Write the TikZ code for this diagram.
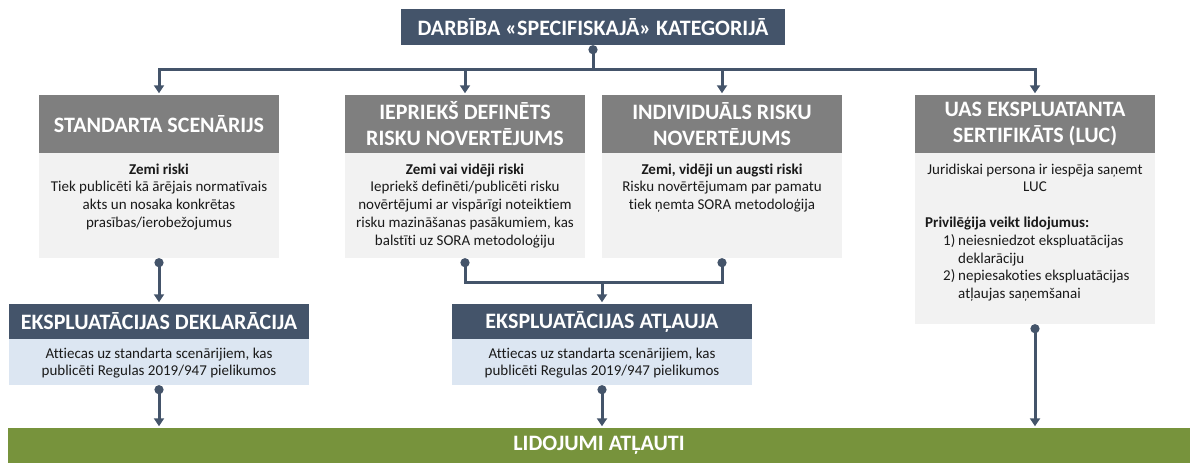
\documentclass[tikz,border=0pt]{standalone}
\usepackage{fontspec}
\setmainfont{Carlito}[RawFeature={-liga}]
\usetikzlibrary{arrows.meta}
\definecolor{slate}{HTML}{44546A}
\definecolor{hgray}{HTML}{7F7F7F}
\definecolor{bgray}{HTML}{F2F2F2}
\definecolor{lblue}{HTML}{DCE6F2}
\definecolor{olive}{HTML}{77933C}
\definecolor{txt}{HTML}{1A1A1A}
\tikzset{
  x=1pt, y=-1pt,
  hdr/.style={fill=hgray, text=white, minimum width=240pt, minimum height=58pt, inner sep=0pt,
    align=center, font=\fontsize{22}{26}\selectfont\bfseries},
  dhdr/.style={fill=slate, text=white, minimum width=300pt, minimum height=35pt, inner sep=0pt,
    align=center, font=\fontsize{22}{26}\selectfont\bfseries},
  gbody/.style={fill=bgray, minimum width=240pt, inner sep=0pt},
  bbody/.style={fill=lblue, minimum width=300pt, minimum height=46pt, inner sep=0pt},
  btxt/.style={text=txt, inner sep=0pt, align=center, font=\fontsize{15}{17.7}\selectfont},
  conn/.style={draw=slate, line width=3pt},
  arr/.style={conn, -{Triangle[width=10pt,length=8pt]}, shorten >=1.5pt},
  dotline/.style={conn, {Circle[length=9pt]}-},
  dotarr/.style={conn, {Circle[length=9pt]}-{Triangle[width=10pt,length=8pt]}, shorten >=1.5pt},
}
\begin{document}
\begin{tikzpicture}
\useasboundingbox (0,0) rectangle (1200,471);
% top
\node[fill=slate, text=white, minimum width=384pt, minimum height=36pt, inner sep=0pt,
  font=\fontsize{22}{26}\selectfont\bfseries] (top) at (593,27) {DARBĪBA «SPECIFISKAJĀ» KATEGORIJĀ};
% headers
\node[hdr] (h1) at (159,124) {STANDARTA SCENĀRIJS};
\node[hdr] (h2) at (465,124) {IEPRIEKŠ DEFINĒTS\\RISKU NOVERTĒJUMS};
\node[hdr] (h3) at (722,124) {INDIVIDUĀLS RISKU\\NOVERTĒJUMS};
\node[hdr] (h4) at (1035,124) {UAS EKSPLUATANTA\\SERTIFIKĀTS (LUC)};
% bodies
\node[gbody, minimum height=105pt] (b1) at (159,205.5) {};
\node[gbody, minimum height=105pt] (b2) at (465,205.5) {};
\node[gbody, minimum height=105pt] (b3) at (722,205.5) {};
\node[gbody, minimum height=171pt] (b4) at (1035,238.5) {};
\node[btxt, anchor=north] (t1) at (159,163.5) {\textbf{Zemi riski}\\Tiek publicēti kā ārējais normatīvais\\akts un nosaka konkrētas\\prasības/ierobežojumus};
\node[btxt, anchor=north] (t2) at (465,163.5) {\textbf{Zemi vai vidēji riski}\\Iepriekš definēti/publicēti risku\\novērtējumi ar vispārīgi noteiktiem\\risku mazināšanas pasākumiem, kas\\balstīti uz SORA metodoloģiju};
\node[btxt, anchor=north] (t3) at (722,163.5) {\textbf{Zemi, vidēji un augsti riski}\\Risku novērtējumam par pamatu\\tiek ņemta SORA metodoloģija};
\node[btxt, anchor=north] (t4) at (1035,163.5) {Juridiskai persona ir iespēja saņemt\\LUC};
\node[btxt, anchor=north west, align=left] (t4b) at (925,217) {\textbf{Privilēģija veikt lidojumus:}\\
\hspace*{18pt}\makebox[15pt][l]{1)}neiesniedzot ekspluatācijas\\
\hspace*{33pt}deklarāciju\\
\hspace*{18pt}\makebox[15pt][l]{2)}nepiesakoties ekspluatācijas\\
\hspace*{33pt}atļaujas saņemšanai};
% lower boxes
\node[dhdr] (hd) at (159,321.5) {EKSPLUATĀCIJAS DEKLARĀCIJA};
\node[bbody] (bd) at (159,362) {};
\node[btxt] (td) at (159,363) {Attiecas uz standarta scenārijiem, kas\\publicēti Regulas 2019/947 pielikumos};
\node[dhdr] (ha) at (602,321.5) {EKSPLUATĀCIJAS ATĻAUJA};
\node[bbody] (ba) at (602,362) {};
\node[btxt] (ta) at (602,363) {Attiecas uz standarta scenārijiem, kas\\publicēti Regulas 2019/947 pielikumos};
% green bar
\node[fill=olive, text=white, minimum width=1182pt, minimum height=35pt, inner sep=0pt,
  font=\fontsize{22}{26}\selectfont\bfseries] (green) at (599,445.5) {LIDOJUMI ATĻAUTI};
% connectors
\coordinate (bus) at (593,69);
\coordinate (jn) at (602,282);
\draw[dotline] (top.south) -- (bus);
\draw[arr] (bus) -| (h1.north);
\draw[arr] (bus) -| (h2.north);
\draw[arr] (bus) -| (h3.north);
\draw[arr] (bus) -| (h4.north);
\draw[dotarr] (b1.south) -- (hd.north);
\draw[dotline] (b2.south) |- (jn);
\draw[dotline] (b3.south) |- (jn);
\draw[arr] (jn) -- (ha.north);
\draw[dotarr] (bd.south) -- (bd.south |- green.north);
\draw[dotarr] (ba.south) -- (ba.south |- green.north);
\draw[dotarr] (b4.south) -- (b4.south |- green.north);
\end{tikzpicture}
\end{document}
